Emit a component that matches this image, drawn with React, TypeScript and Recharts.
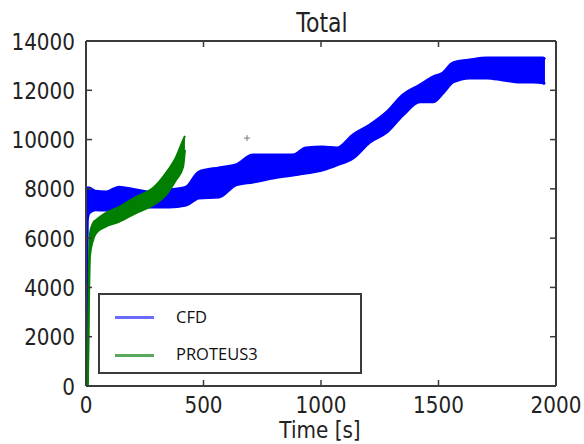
import React from 'react'
import {
	Area,
	ComposedChart,
	Legend,
	Scatter,
	XAxis,
	YAxis,
} from 'recharts'

// CFD band: time, lower edge, upper edge
const cfdTime = [0, 5, 13, 40, 85, 140, 213, 272, 353, 426, 480, 566, 638, 711, 796, 881, 936, 1008, 1068, 1136, 1208, 1281, 1349, 1421, 1476, 1519, 1562, 1634, 1706, 1774, 1847, 1902, 1945, 1953]
const cfdLow = [0, 6700, 7020, 7150, 7140, 7260, 7300, 7260, 7260, 7340, 7630, 7670, 8160, 8280, 8440, 8560, 8640, 8770, 8970, 9250, 9900, 10310, 11000, 11530, 11530, 11890, 12340, 12500, 12500, 12420, 12340, 12340, 12300, 12250]
const cfdHigh = [0, 8030, 8030, 7900, 7870, 8070, 7950, 7870, 7950, 8070, 8680, 8850, 8970, 9370, 9370, 9370, 9660, 9700, 9660, 10190, 10590, 11120, 11810, 12210, 12540, 12700, 13110, 13230, 13310, 13310, 13310, 13310, 13310, 13250]

// PROTEUS3 band
const proteusTime = [8, 12, 17, 30, 43, 80, 140, 213, 285, 340, 383, 413, 421]
const proteusLow = [0, 3000, 5300, 5920, 6200, 6450, 6660, 7020, 7340, 7750, 8360, 8890, 9580]
const proteusHigh = [150, 4600, 6200, 6610, 6740, 7000, 7260, 7670, 8030, 8640, 9290, 9980, 10150]

const marker = [{ t: 685, v: 10060 }]

const xTicks = [0, 500, 1000, 1500, 2000]
const yTicks = [0, 2000, 4000, 6000, 8000, 10000, 12000, 14000]

const cfdData = cfdTime.map((t, i) => ({ t, range: [cfdLow[i], cfdHigh[i]] }))
const proteusData = proteusTime.map((t, i) => ({ t, range: [proteusLow[i], proteusHigh[i]] }))

const FRAME = '#3b3b3b'
const FONT = 'DejaVu Sans'
const STRETCH = 1.17

const LeftTick = ({ x, y, payload }: any) => (
	<g>
		<line x1={x} x2={x + 6} y1={y} y2={y} stroke={FRAME} strokeWidth={1.5} />
		<text
			transform={`translate(${x - 11},${y + 8.5}) scale(1,${STRETCH})`}
			textAnchor='end'
			fontFamily={FONT}
			fontSize={20}
			fill='#222'
		>
			{payload.value}
		</text>
	</g>
)

const RightTick = ({ x, y }: any) => (
	<line x1={x - 6} x2={x} y1={y} y2={y} stroke={FRAME} strokeWidth={1.5} />
)

const BottomTick = ({ x, y, payload }: any) => (
	<g>
		<line x1={x} x2={x} y1={y} y2={y - 6} stroke={FRAME} strokeWidth={1.5} />
		<text
			transform={`translate(${x},${y + 27}) scale(1,${STRETCH})`}
			textAnchor='middle'
			fontFamily={FONT}
			fontSize={20}
			fill='#222'
		>
			{payload.value}
		</text>
	</g>
)

const TopTick = ({ x, y }: any) => (
	<line x1={x} x2={x} y1={y} y2={y + 6} stroke={FRAME} strokeWidth={1.5} />
)

const AxisTitle = ({ value, cx, baseline, size }: any) => (
	<text
		transform={`translate(${cx},${baseline}) scale(1,${STRETCH})`}
		textAnchor='middle'
		fontFamily={FONT}
		fontSize={size}
		fill='#222'
	>
		{value}
	</text>
)

const Cross = ({ cx, cy }: any) => (
	<g stroke='#777' strokeWidth={1}>
		<line x1={cx - 3} x2={cx + 3} y1={cy} y2={cy} />
		<line x1={cx} x2={cx} y1={cy - 3} y2={cy + 3} />
	</g>
)

const LegendBox = () => (
	<div style={{ position: 'relative', width: '100%', height: '100%', fontFamily: 'Open Sans', fontSize: 16.5, color: '#111' }}>
		<div style={{ position: 'absolute', left: 15, top: 21, width: 39, height: 3, background: '#6b6bff' }} />
		<div style={{ position: 'absolute', left: 76, top: 10, lineHeight: '24px' }}>CFD</div>
		<div style={{ position: 'absolute', left: 15, top: 59, width: 39, height: 3, background: '#5aa85a' }} />
		<div style={{ position: 'absolute', left: 76, top: 47, lineHeight: '24px' }}>PROTEUS3</div>
	</div>
)

export default function App() {
	return (
		<div style={{ position: 'absolute', left: 0, top: 0, background: '#fff' }}>
			<ComposedChart width={584} height={444} margin={{ top: 0, right: 0, bottom: 0, left: 0 }}>
				<XAxis
					xAxisId='bottom'
					dataKey='t'
					type='number'
					domain={[0, 2000]}
					ticks={xTicks}
					allowDataOverflow
					height={58}
					tickSize={0}
					tickMargin={0}
					tickLine={false}
					tick={<BottomTick />}
					axisLine={{ stroke: FRAME, strokeWidth: 2 }}
					label={{ content: () => <AxisTitle value='Time [s]' cx={320} baseline={438} size={20} /> }}
				/>
				<XAxis
					xAxisId='top'
					orientation='top'
					dataKey='t'
					type='number'
					domain={[0, 2000]}
					ticks={xTicks}
					allowDataOverflow
					height={41}
					tickSize={0}
					tickMargin={0}
					tickLine={false}
					tick={<TopTick />}
					axisLine={{ stroke: FRAME, strokeWidth: 2 }}
					label={{ content: () => <AxisTitle value='Total' cx={322} baseline={32} size={22} /> }}
				/>
				<YAxis
					yAxisId='left'
					type='number'
					domain={[0, 14000]}
					ticks={yTicks}
					allowDataOverflow
					width={86}
					tickSize={0}
					tickMargin={0}
					tickLine={false}
					tick={<LeftTick />}
					axisLine={{ stroke: FRAME, strokeWidth: 2 }}
				/>
				<YAxis
					yAxisId='right'
					orientation='right'
					type='number'
					domain={[0, 14000]}
					ticks={yTicks}
					allowDataOverflow
					width={28}
					tickSize={0}
					tickMargin={0}
					tickLine={false}
					tick={<RightTick />}
					axisLine={{ stroke: FRAME, strokeWidth: 2 }}
				/>
				<Legend
					layout='vertical'
					align='center'
					verticalAlign='middle'
					content={<LegendBox />}
					wrapperStyle={{
						left: 98,
						top: 293,
						width: 264,
						height: 81,
						border: `2px solid ${FRAME}`,
						boxSizing: 'border-box',
						background: '#fff',
					}}
				/>
				<Area
					xAxisId='bottom'
					yAxisId='left'
					data={cfdData}
					dataKey='range'
					name='CFD'
					type='monotone'
					fill='#0000ff'
					fillOpacity={1}
					stroke='#0000ff'
					strokeWidth={3}
					strokeLinejoin='round'
					isAnimationActive={false}
				/>
				<Area
					xAxisId='bottom'
					yAxisId='left'
					data={proteusData}
					dataKey='range'
					name='PROTEUS3'
					type='monotone'
					fill='#007f00'
					fillOpacity={1}
					stroke='#007f00'
					strokeWidth={2}
					strokeLinejoin='round'
					isAnimationActive={false}
				/>
				<Scatter
					xAxisId='bottom'
					yAxisId='left'
					data={marker}
					dataKey='v'
					shape={<Cross />}
					legendType='none'
					isAnimationActive={false}
				/>
			</ComposedChart>
		</div>
	)
}
